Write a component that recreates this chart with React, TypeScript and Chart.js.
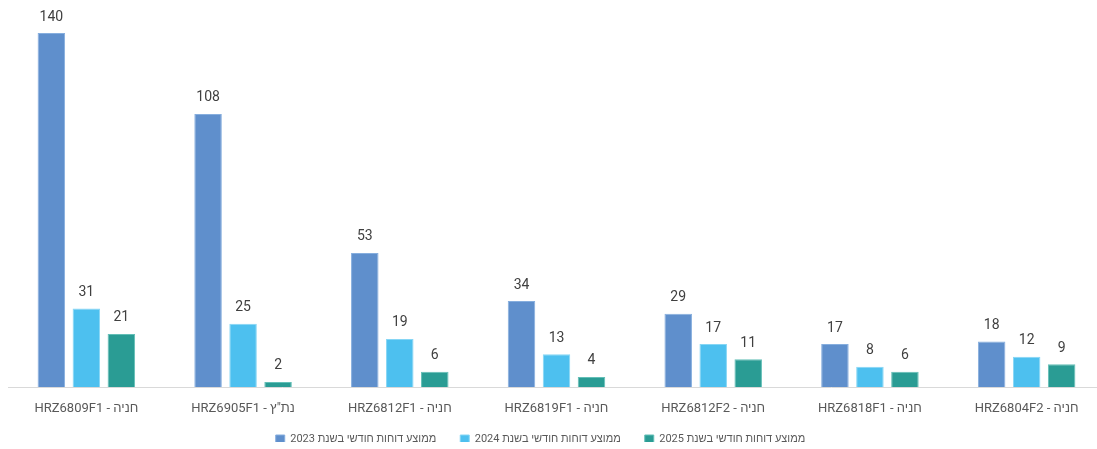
import React, { useEffect, useRef } from "react";
import { Chart, registerables } from "chart.js";

Chart.register(...registerables);

const categories = [
  "HRZ6809F1 - חניה",
  'HRZ6905F1 - נת"ץ',
  "HRZ6812F1 - חניה",
  "HRZ6819F1 - חניה",
  "HRZ6812F2 - חניה",
  "HRZ6818F1 - חניה",
  "HRZ6804F2 - חניה",
];
const seriesNames = [
  "ממוצע דוחות חודשי בשנת 2023",
  "ממוצע דוחות חודשי בשנת 2024",
  "ממוצע דוחות חודשי בשנת 2025",
];
const values2023 = [140, 108, 53, 34, 29, 17, 18];
const values2024 = [31, 25, 19, 13, 17, 8, 12];
const values2025 = [21, 2, 6, 4, 11, 6, 9];

const colors = ["#5f8fcc", "#4dc0ef", "#2a9c94"];
const borders = ["#86aede", "#86d6f5", "#63bfb7"];

const valueLabels = {
  id: "valueLabels",
  afterDatasetsDraw(chart: any) {
    const ctx = chart.ctx;
    ctx.save();
    ctx.font = "14px Roboto, 'Noto Sans', sans-serif";
    ctx.fillStyle = "#404040";
    ctx.textAlign = "center";
    ctx.textBaseline = "bottom";
    chart.data.datasets.forEach((ds: any, di: number) => {
      const meta = chart.getDatasetMeta(di);
      meta.data.forEach((el: any, i: number) => {
        ctx.fillText(String(ds.data[i]), el.x, el.y - 9);
      });
    });
    ctx.restore();
  },
};

const shiftLegend = {
  id: "shiftLegend",
  afterLayout(chart: any) {
    const l = chart.legend;
    if (l) {
      l.top -= 7;
      l.bottom -= 7;
    }
  },
};

export default function App() {
  const ref = useRef<HTMLCanvasElement>(null);
  useEffect(() => {
    if (!ref.current) return;
    const data = [values2023, values2024, values2025];
    const chart = new Chart(ref.current, {
      type: "bar",
      data: {
        labels: categories,
        datasets: data.map((d, i) => ({
          label: seriesNames[i],
          data: d,
          backgroundColor: colors[i],
          borderColor: borders[i],
          borderWidth: 1,
          categoryPercentage: 0.67,
          barPercentage: 0.786,
        })),
      },
      options: {
        responsive: false,
        animation: false,
        layout: { padding: { left: 6, right: 5, top: 33, bottom: 0 } },
        scales: {
          x: {
            grid: { display: false, drawTicks: false },
            border: { display: true, color: "#d9d9d9", width: 1 },
            ticks: {
              color: "#595959",
              font: { family: "Roboto, 'Noto Sans', sans-serif", size: 13 },
              padding: 14,
              maxRotation: 0,
              autoSkip: false,
            },
            afterFit: (s: any) => {
              s.height = 30;
            },
          },
          y: {
            min: 0,
            max: 140,
            ticks: { display: false },
            grid: { display: false, drawTicks: false },
            border: { display: false },
            afterFit: (s: any) => {
              s.width = 32;
            },
          },
        },
        plugins: {
          tooltip: { enabled: false },
          legend: {
            position: "bottom",
            maxHeight: 32,
            labels: {
              boxWidth: 9,
              boxHeight: 9,
              padding: 24,
              color: "#595959",
              font: { family: "'Liberation Sans Narrow', Roboto, sans-serif", size: 11 },
            },
          },
        },
      },
      plugins: [valueLabels, shiftLegend],
    });
    return () => chart.destroy();
  }, []);
  return (
    <div style={{ position: "fixed", left: 0, top: 0, width: 1097, height: 449, overflow: "hidden", background: "#fff" }}>
      <canvas ref={ref} width={1140} height={449} style={{ position: "absolute", left: -30, top: 0, width: 1140, height: 449 }} />
    </div>
  );
}
